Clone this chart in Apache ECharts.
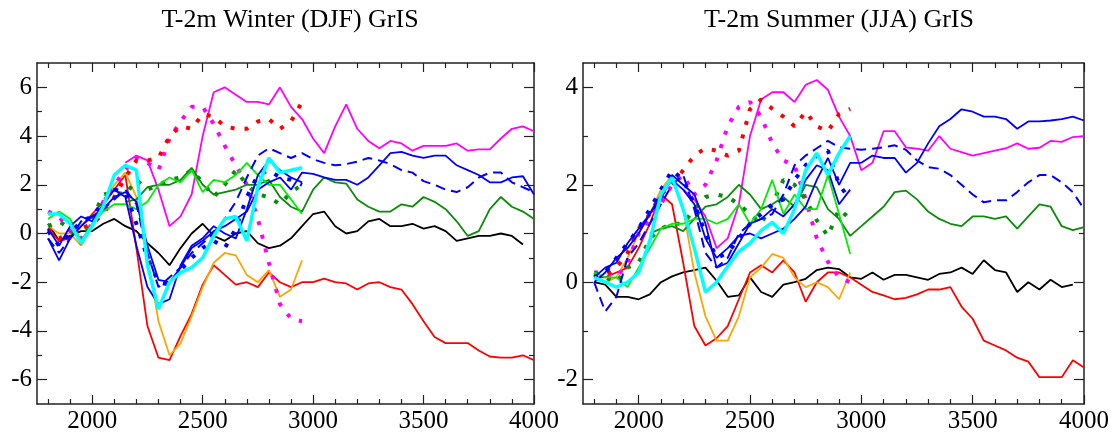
<!DOCTYPE html>
<html>
<head>
<meta charset="utf-8">
<script src="https://cdn.jsdelivr.net/npm/echarts@6/dist/echarts.min.js"></script>
<style>
html, body { margin: 0; padding: 0; background: #fff; }
#chart { width: 1120px; height: 435px; }
</style>
</head>
<body>
<div id="chart"></div>
<script>
// model years, sampled every 50 years; the short runs stop at 2950
const years = [1800, 1850, 1900, 1950, 2000, 2050, 2100, 2150, 2200, 2250,
  2300, 2350, 2400, 2450, 2500, 2550, 2600, 2650, 2700, 2750,
  2800, 2850, 2900, 2950, 3000, 3050, 3100, 3150, 3200, 3250,
  3300, 3350, 3400, 3450, 3500, 3550, 3600, 3650, 3700, 3750,
  3800, 3850, 3900, 3950, 4000]

const xMajor = [2000, 2500, 3000, 3500, 4000]
const xMinor = [1800, 1900, 2100, 2200, 2300, 2400, 2600, 2700, 2800, 2900, 3100, 3200, 3300, 3400, 3600, 3700, 3800, 3900]
const winterTicks = [-6, -4, -2, 0, 2, 4, 6]
const winterMinor = [-5, -3, -1, 1, 3, 5]
const summerTicks = [-2, 0, 2, 4]
const summerMinor = [-1, 1, 3]

// ---- Winter (DJF) ----
const wBlack = [0.4, -0.3, -0.1, 0.1, 0.1, 0.4, 0.6, 0.3, 0.1, -0.4,
  -0.8, -1.3, -0.6, 0.0, 0.4, -0.1, -0.3, 0.0, 0.1, -0.4,
  -0.6, -0.5, -0.2, 0.3, 0.8, 0.9, 0.3, 0.0, 0.1, 0.5,
  0.6, 0.3, 0.3, 0.4, 0.2, 0.3, 0.1, -0.3, -0.2, -0.1,
  -0.1, 0.0, -0.1, -0.45, null]
const wRed = [0.2, -0.3, -0.2, 0.3, 0.8, 1.3, 1.8, 2.4, -0.6, -3.8,
  -5.1, -5.2, -4.2, -3.3, -2.1, -1.3, -1.7, -2.1, -2.0, -2.2,
  -1.6, -2.0, -2.2, -2.0, -2.0, -1.85, -2.0, -2.05, -2.3, -2.05,
  -2.0, -2.2, -2.3, -2.9, -3.6, -4.25, -4.5, -4.5, -4.5, -4.8,
  -5.05, -5.1, -5.1, -5.0, -5.2]
const wOrange = [0.3, 0.0, 0.0, -0.5, 0.4, 1.2, 2.0, 2.5, 1.5, -1.0,
  -3.6, -5.0, -4.5, -3.4, -2.2, -1.2, -0.8, -0.9, -1.7, -2.0,
  -1.5, -2.6, -2.3, -1.1]
const wMagenta = [null, null, null, null, null, null, null, 2.9, 3.2, 3.0,
  1.8, 0.3, 0.7, 1.6, 4.0, 5.8, 6.0, 5.7, 5.4, 5.4,
  5.3, 6.0, 5.2, 4.7, 3.9, 3.3, 4.4, 5.3, 4.3, 3.8,
  3.5, 3.8, 3.7, 3.4, 3.6, 3.6, 3.6, 3.7, 3.4, 3.45,
  3.45, 3.9, 4.3, 4.4, 4.2]
const wMagentaDot = [0.9, 0.7, 0.1, -0.2, 0.4, 1.3, 2.0, 2.6, 3.1, 2.9,
  2.6, 3.9, 4.6, 5.2, 5.2, 4.5, 3.6, 2.8, 2.0, 0.6,
  -1.2, -2.9, -3.5, -3.6]
const wRedDot = [0.2, -0.2, 0.0, 0.2, 0.4, 0.8, 1.5, 2.3, 3.0, 3.0,
  3.1, 4.0, 4.4, 4.3, 4.9, 4.8, 4.4, 4.3, 4.3, 4.6,
  4.7, 4.3, 4.6, 5.4]
const wGreen = [null, null, null, null, null, null, null, 1.3, 1.4, 1.9,
  2.0, 2.0, 2.2, 2.7, 2.0, 1.6, 1.7, 1.8, 2.0, 2.0,
  2.2, 1.5, 1.1, 0.9, 1.8, 2.3, 2.1, 2.05, 1.4, 1.1,
  0.9, 0.9, 1.2, 1.1, 1.5, 1.3, 1.0, 0.5, -0.1, 0.1,
  1.0, 1.5, 1.1, 0.9, 0.6]
const wGreenDot = [0.3, 0.5, 0.2, -0.4, 0.6, 1.6, 1.7, 1.6, 2.2, 1.8,
  2.0, 2.2, 2.3, 2.6, 2.1, 1.5, 2.0, 2.6, 2.0, 1.6,
  1.5, 1.2, 1.7, 2.0]
const wLime = [0.6, 0.9, 0.6, -0.3, 0.4, 0.9, 1.2, 1.2, 1.0, 1.3,
  2.0, 2.3, 2.1, 2.6, 1.7, 2.2, 2.1, 2.4, 2.9, 2.4,
  2.0, 2.0, 1.4, 0.8]
const wBlueDash = [-0.2, -0.8, -0.2, 0.5, 0.7, 1.0, 1.4, 1.8, 1.2, -0.8,
  -2.2, -1.8, -1.4, -0.8, -0.4, 0.0, 0.6, 1.3, 2.3, 3.2,
  3.5, 3.3, 3.1, 3.3, 3.05, 2.9, 2.8, 2.85, 2.95, 3.1,
  3.0, 2.85, 2.6, 2.5, 2.15, 2.0, 1.8, 1.7, 1.9, 2.3,
  2.5, 2.5, 2.1, 1.9, 1.7]
const wBlueDot = [0.1, -0.5, 0.0, 0.5, 0.7, 1.3, 1.8, 1.7, 0.4, -1.0,
  -2.0, -2.1, -1.5, -1.0, -0.6, -0.3, -0.6, 0.2, 1.5, 2.4,
  2.6, 2.3, 2.2, 2.0]
const wBlueA = [-0.2, -1.1, -0.2, 0.3, 0.7, 1.0, 1.5, 1.7, 1.3, -0.5,
  -1.9, -2.0, -1.4, -0.6, -0.3, 0.1, 0.3, 0.6, 0.9, 1.8,
  2.1, 2.3, 1.8, 2.5, 2.45, 2.3, 2.2, 2.2, 2.0, 2.3,
  2.8, 3.3, 3.35, 3.2, 3.1, 3.2, 3.2, 2.8, 2.6, 2.4,
  2.1, 2.1, 2.3, 2.35, 1.6]
const wBlueB = [0.2, -0.5, 0.3, 0.7, 0.5, 1.2, 1.8, 1.5, -0.5, -2.2,
  -2.9, -2.7, -1.3, -0.5, -0.2, 0.3, 0.0, -0.2, 1.0, 2.4,
  3.0, 2.6, 2.3, 2.1]
const wCyan = [0.8, 0.8, 0.4, -0.4, 0.3, 1.1, 2.4, 2.8, 2.6, -1.3,
  -3.1, -2.0, -1.6, -1.4, -1.0, -0.1, 0.6, 0.7, -0.3, 1.9,
  3.1, 2.5, 2.6, 2.7]

// ---- Summer (JJA) ----
const sBlack = [0.0, -0.05, -0.3, -0.3, -0.35, -0.25, 0.0, 0.12, 0.2, 0.25,
  0.3, 0.03, -0.3, -0.27, 0.1, -0.2, -0.3, -0.05, 0.0, 0.07,
  0.25, 0.3, 0.27, 0.1, 0.07, 0.2, 0.05, 0.15, 0.15, 0.1,
  0.05, 0.17, 0.2, 0.3, 0.17, 0.45, 0.25, 0.2, -0.2, 0.0,
  -0.15, 0.05, -0.1, -0.05, null]
const sRed = [0.1, 0.1, 0.2, 0.3, 0.7, 1.2, 1.8, 1.6, 0.4, -0.9,
  -1.3, -1.15, -0.9, -0.35, 0.2, 0.35, 0.2, 0.45, 0.2, -0.4,
  0.0, 0.2, 0.2, 0.1, -0.05, -0.2, -0.27, -0.35, -0.32, -0.25,
  -0.15, -0.15, -0.1, -0.5, -0.75, -1.2, -1.3, -1.4, -1.55, -1.63,
  -1.95, -1.95, -1.95, -1.6, -1.75]
const sOrange = [0.1, 0.0, 0.1, 0.5, 1.0, 1.4, 1.9, 2.2, 1.5, 0.2,
  -0.7, -1.2, -1.2, -0.7, 0.1, 0.3, 0.58, 0.5, 0.1, -0.1,
  0.0, -0.1, -0.35, 0.2]
const sMagenta = [null, null, null, null, null, null, null, null, 1.9, 1.7,
  1.35, 0.7, 0.9, 1.6, 3.0, 3.75, 3.9, 3.9, 3.7, 4.05,
  4.15, 3.95, 3.4, 3.0, 2.3, 2.45, 3.1, 3.1, 2.77, 2.74,
  2.7, 3.0, 2.74, 2.67, 2.6, 2.65, 2.7, 2.75, 2.85, 2.74,
  2.76, 2.9, 2.88, 2.98, 3.0]
const sMagentaDot = [0.2, 0.2, 0.1, 0.4, 1.0, 1.3, 1.6, 2.0, 2.2, 1.8,
  2.0, 2.5, 3.2, 3.6, 3.7, 3.4, 2.85, 2.5, 2.4, 1.7,
  0.9, 0.42, 0.1, 0.0]
const sRedDot = [0.1, 0.15, 0.3, 0.6, 1.1, 1.4, 1.8, 2.0, 2.3, 2.6,
  2.75, 2.7, 2.6, 2.7, 3.55, 3.75, 3.56, 3.4, 3.2, 3.5,
  3.2, 3.1, 3.45, 3.56]
const sGreen = [null, null, null, null, null, 1.0, 1.1, 1.15, 1.05, 1.3,
  1.55, 1.6, 1.75, 2.0, 1.8, 1.5, 1.6, 1.75, 1.55, 2.0,
  1.95, 1.5, 1.3, 0.95, 1.15, 1.35, 1.55, 1.85, 1.88, 1.7,
  1.45, 1.3, 1.2, 1.15, 1.35, 1.35, 1.3, 1.35, 1.1, 1.35,
  1.6, 1.55, 1.15, 1.07, 1.13]
const sGreenDot = [0.2, 0.1, 0.0, 0.3, 0.4, 0.9, 1.1, 1.2, 1.2, 1.5,
  1.75, 1.8, 1.75, 1.6, 1.4, 1.2, 1.6, 2.1, 2.0, 1.7,
  1.27, 0.95, 1.5, 1.3]
const sLime = [0.2, 0.1, 0.1, -0.1, 0.3, 0.7, 1.1, 1.2, 1.2, 1.3,
  1.3, 1.2, 1.3, 1.6, 1.2, 1.5, 2.1, 1.4, 1.8, 1.5,
  1.5, 2.2, 1.4, 0.58]
const sBlueDash = [0.0, -0.6, -0.3, 0.5, 0.8, 1.2, 1.6, 2.0, 2.2, 1.5,
  0.6, 0.3, 0.5, 1.0, 1.2, 1.3, 1.4, 1.8, 2.4, 2.6,
  2.75, 2.9, 2.77, 2.74, 2.72, 2.74, 2.77, 2.81, 2.72, 2.5,
  2.36, 2.33, 2.2, 2.0, 1.8, 1.64, 1.68, 1.68, 1.85, 2.05,
  2.2, 2.2, 2.05, 1.85, 1.5]
const sBlueDot = [0.1, 0.2, 0.5, 0.8, 1.1, 1.5, 1.9, 2.3, 2.1, 1.6,
  1.0, 0.5, 0.6, 0.9, 1.2, 1.4, 1.6, 1.7, 2.1, 2.4,
  2.6, 2.7, 2.0, 1.7]
const sBlueA = [0.0, 0.2, 0.5, 0.7, 1.0, 1.4, 1.8, 2.1, 1.9, 1.6,
  0.9, 0.5, 0.7, 0.95, 1.0, 0.9, 1.0, 1.1, 1.3, 1.55,
  2.1, 2.55, 2.0, 2.45, 2.45, 2.6, 2.55, 2.55, 2.25, 2.45,
  2.85, 3.2, 3.35, 3.55, 3.5, 3.4, 3.4, 3.35, 3.15, 3.3,
  3.3, 3.32, 3.35, 3.4, 3.32]
const sBlueB = [0.1, 0.3, 0.4, 0.8, 1.1, 1.4, 1.7, 2.2, 2.0, 1.8,
  1.2, 0.3, 0.4, 0.8, 1.2, 1.3, 1.5, 1.35, 1.6, 2.1,
  2.4, 2.3, 1.6, 1.9]
const sCyan = [0.1, 0.0, -0.1, 0.0, 0.2, 0.85, 1.8, 2.15, 1.5, 0.7,
  -0.2, 0.0, 0.33, 0.63, 0.8, 1.06, 1.23, 1.0, 1.5, 2.3,
  2.65, 2.2, 2.65, 3.0]

const FONT = 'Liberation Serif'
const AXIS_COLOR = '#222'

const lineStyles = {
  black: { color: '#000000', width: 1.8 },
  red: { color: '#ff0000', width: 1.8 },
  orange: { color: '#ffa500', width: 1.8 },
  magenta: { color: '#ff00ff', width: 1.8 },
  magentaDot: { color: '#ff00ff', width: 4, type: [4, 10] },
  redDot: { color: '#ff0000', width: 4, type: [4, 10] },
  green: { color: '#0a8c0a', width: 1.8 },
  greenDot: { color: '#0a8c0a', width: 4, type: [4, 10] },
  lime: { color: '#00ee00', width: 1.8 },
  blueDash: { color: '#0000ff', width: 2, type: [10, 6] },
  blueDot: { color: '#0000ff', width: 4, type: [4, 10] },
  blue: { color: '#0000ff', width: 1.8 },
  cyan: { color: '#00ffff', width: 3.5 }
}

function pairs(vals) {
  return vals.map((v, i) => [years[i], v])
}

function makeSeries(gridIdx, list) {
  return list.map(([key, vals]) => ({
    type: 'line',
    xAxisIndex: gridIdx * 4,
    yAxisIndex: gridIdx * 4,
    data: pairs(vals),
    showSymbol: false,
    symbol: 'none',
    connectNulls: false,
    lineStyle: lineStyles[key],
    emphasis: { disabled: true },
    silent: true
  }))
}

const plainNumber = v => String(v)

function xAxes(gridIdx) {
  const base = { gridIndex: gridIdx, type: 'value', min: 1750, max: 4000, splitLine: { show: false } }
  const line = { show: true, onZero: false, lineStyle: { color: AXIS_COLOR, width: 1.5 } }
  const tick = (vals, len) => ({ show: true, inside: true, length: len, customValues: vals, lineStyle: { color: AXIS_COLOR, width: 1.2 } })
  return [
    { ...base, position: 'bottom', axisLine: line, axisTick: tick(xMajor, 9),
      axisLabel: { customValues: xMajor, formatter: plainNumber, margin: 5, fontFamily: FONT, fontSize: 25, color: '#000' } },
    { ...base, position: 'bottom', axisLine: { show: false, onZero: false }, axisTick: tick(xMinor, 5), axisLabel: { show: false } },
    { ...base, position: 'top', axisLine: line, axisTick: tick(xMajor, 9), axisLabel: { show: false } },
    { ...base, position: 'top', axisLine: { show: false, onZero: false }, axisTick: tick(xMinor, 5), axisLabel: { show: false } }
  ]
}

function yAxes(gridIdx, min, max, major, minor) {
  const base = { gridIndex: gridIdx, type: 'value', min: min, max: max, splitLine: { show: false } }
  const line = { show: true, onZero: false, lineStyle: { color: AXIS_COLOR, width: 1.5 } }
  const tick = (vals, len) => ({ show: true, inside: true, length: len, customValues: vals, lineStyle: { color: AXIS_COLOR, width: 1.2 } })
  return [
    { ...base, position: 'left', axisLine: line, axisTick: tick(major, 10),
      axisLabel: { customValues: major, formatter: plainNumber, margin: 5, fontFamily: FONT, fontSize: 25, color: '#000' } },
    { ...base, position: 'left', axisLine: { show: false, onZero: false }, axisTick: tick(minor, 5), axisLabel: { show: false } },
    { ...base, position: 'right', axisLine: line, axisTick: tick(major, 10), axisLabel: { show: false } },
    { ...base, position: 'right', axisLine: { show: false, onZero: false }, axisTick: tick(minor, 5), axisLabel: { show: false } }
  ]
}

const winterLines = [
  ['black', wBlack], ['red', wRed], ['orange', wOrange], ['magenta', wMagenta],
  ['magentaDot', wMagentaDot], ['redDot', wRedDot], ['green', wGreen], ['greenDot', wGreenDot],
  ['lime', wLime], ['blueDash', wBlueDash], ['blueDot', wBlueDot], ['blue', wBlueA],
  ['blue', wBlueB], ['cyan', wCyan]
]
const summerLines = [
  ['black', sBlack], ['red', sRed], ['orange', sOrange], ['magenta', sMagenta],
  ['magentaDot', sMagentaDot], ['redDot', sRedDot], ['green', sGreen], ['greenDot', sGreenDot],
  ['lime', sLime], ['blueDash', sBlueDash], ['blueDot', sBlueDot], ['blue', sBlueA],
  ['blue', sBlueB], ['cyan', sCyan]
]

const titleStyle = { fontFamily: FONT, fontSize: 26, fontWeight: 'normal', color: '#000' }

const option = {
  animation: false,
  backgroundColor: '#fff',
  title: [
    { text: 'T-2m Winter (DJF) GrIS', left: 285, top: 2, textAlign: 'center', textStyle: titleStyle },
    { text: 'T-2m Summer (JJA) GrIS', left: 834, top: 2, textAlign: 'center', textStyle: titleStyle }
  ],
  grid: [
    { left: 37, top: 63, width: 497, height: 341 },
    { left: 583, top: 63, width: 501, height: 341 }
  ],
  xAxis: [...xAxes(0), ...xAxes(1)],
  yAxis: [...yAxes(0, -7, 7, winterTicks, winterMinor), ...yAxes(1, -2.5, 4.5, summerTicks, summerMinor)],
  series: [...makeSeries(0, winterLines), ...makeSeries(1, summerLines)]
}

const myChart = echarts.init(document.getElementById('chart'), null, { renderer: 'canvas' })
myChart.setOption(option)
window.onresize = function () {
  myChart.resize()
}
</script>
</body>
</html>
